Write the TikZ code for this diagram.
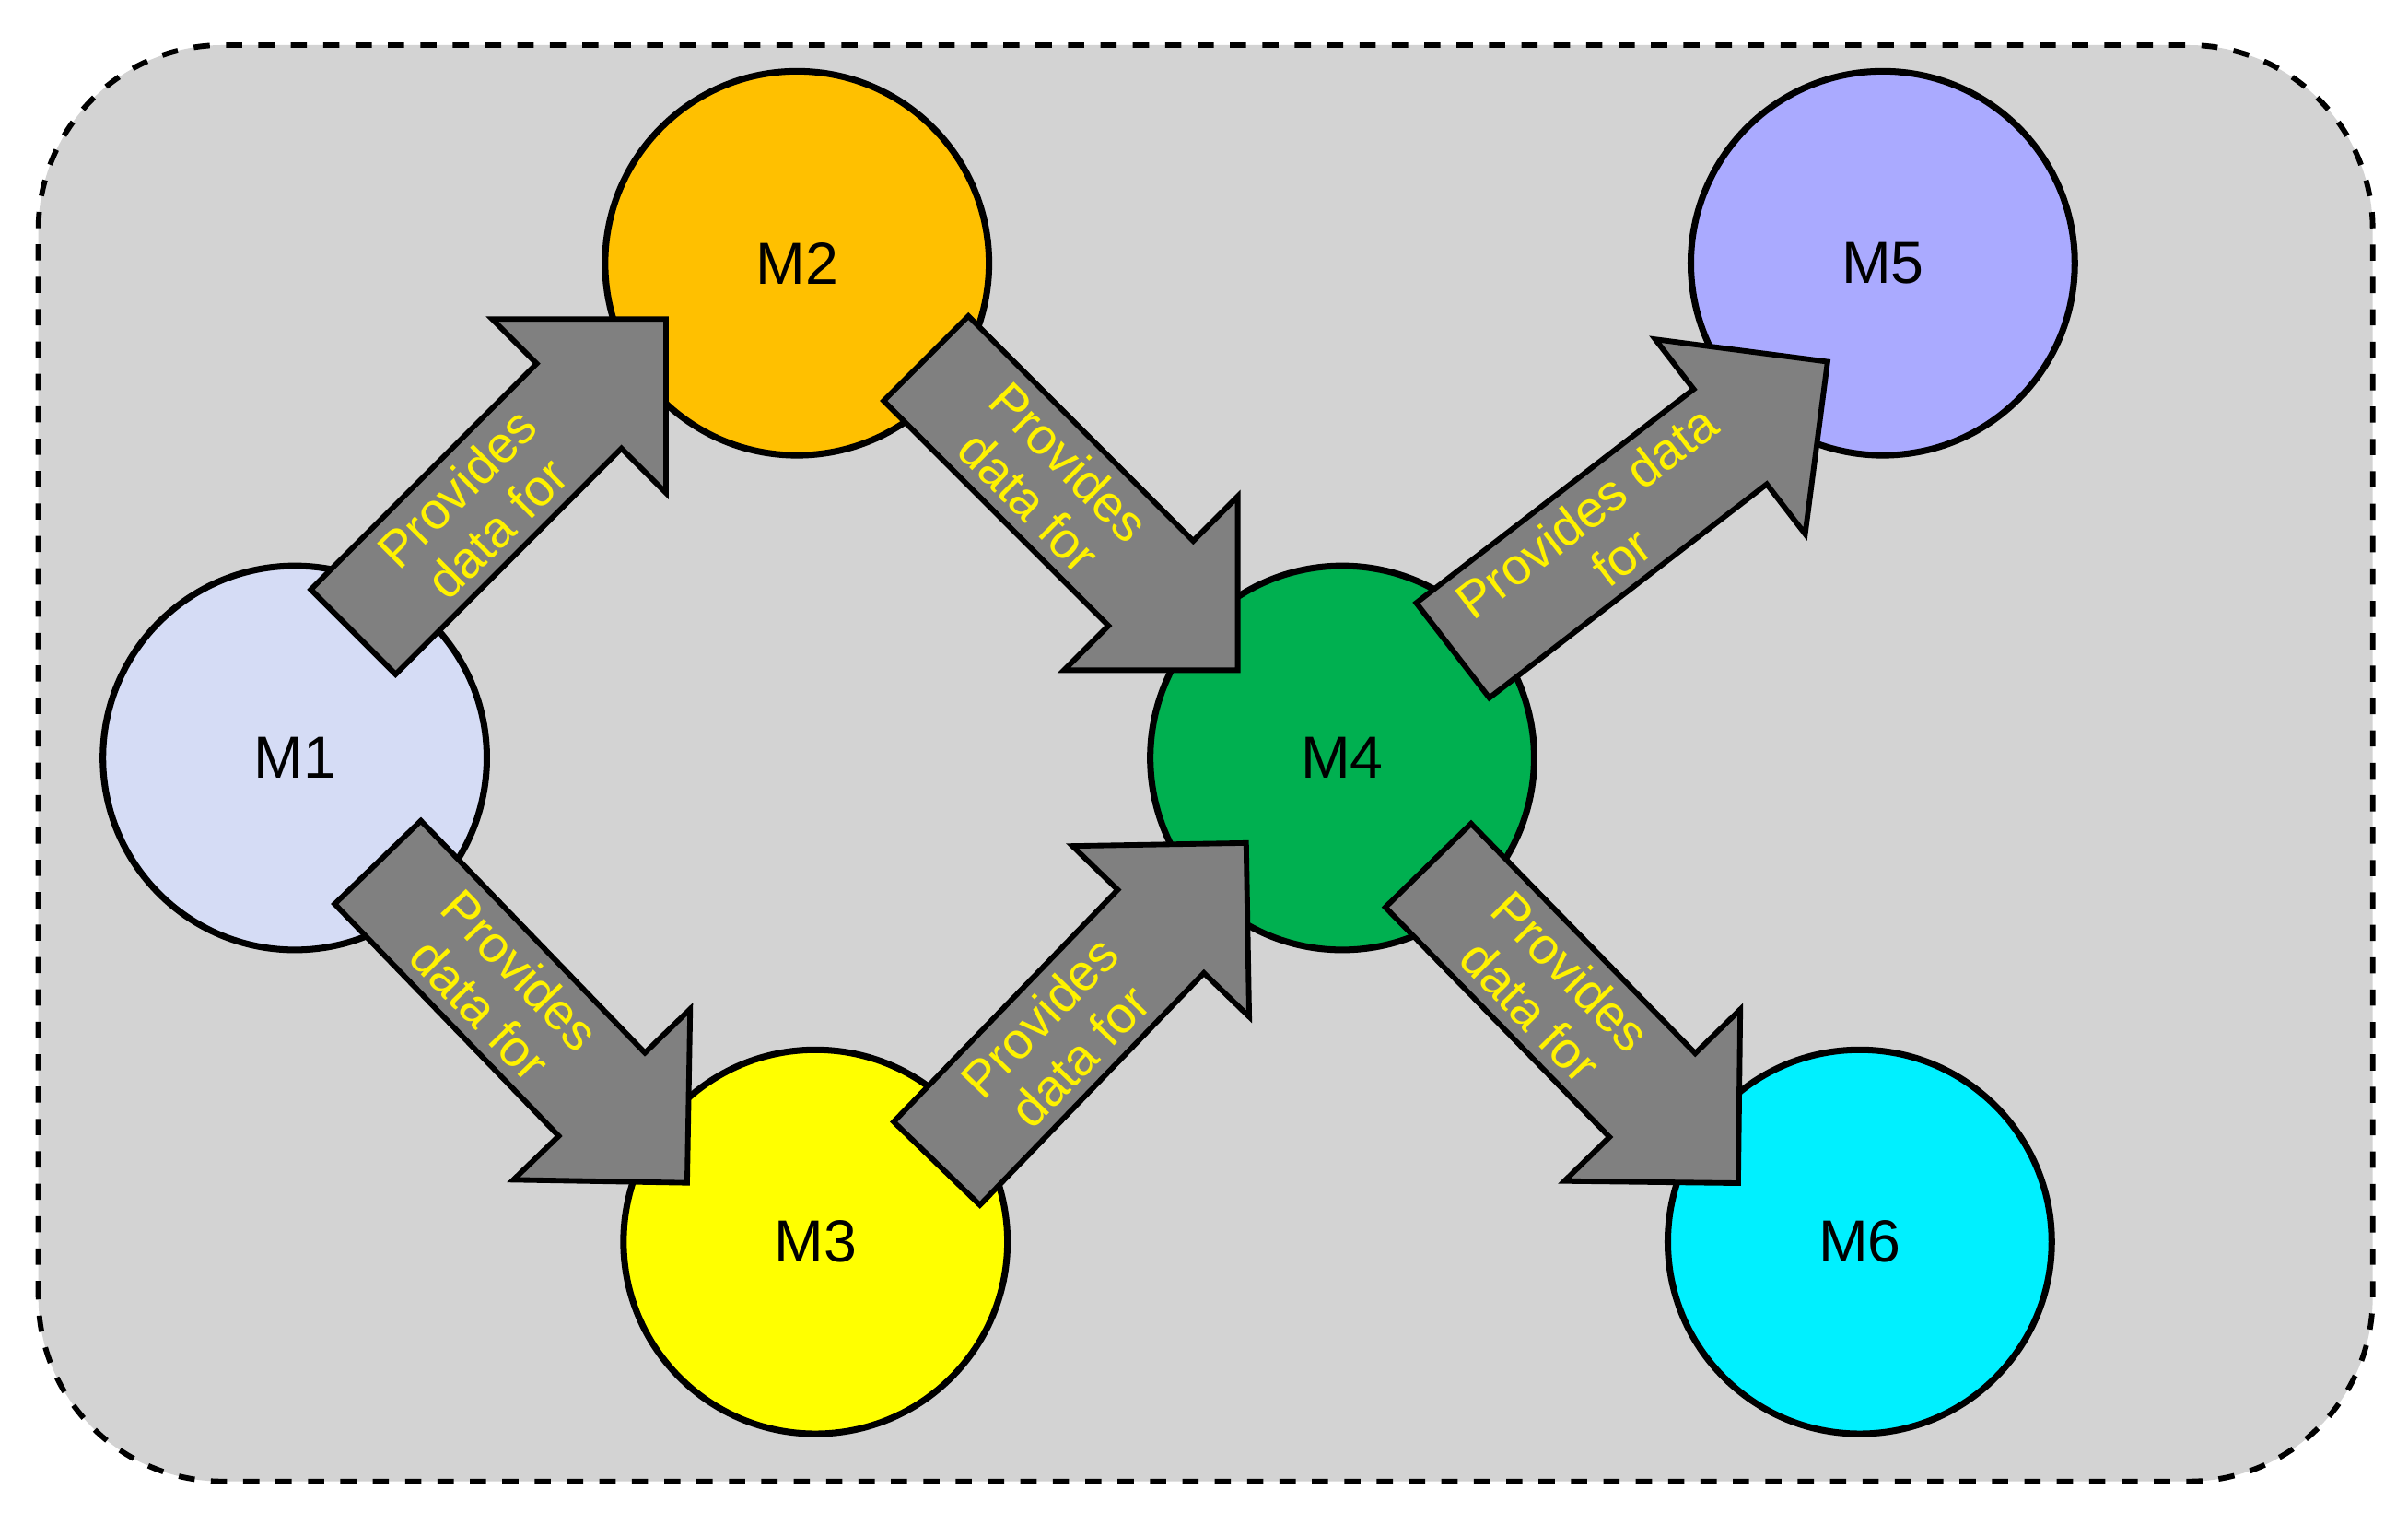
\documentclass[tikz,border=0pt]{standalone}
\usepackage{fontspec}
\setmainfont{Liberation Sans}
\usetikzlibrary{positioning}

\definecolor{panelgray}{RGB}{211,211,211}
\definecolor{arrowgray}{RGB}{128,128,128}
\definecolor{mone}{RGB}{213,220,245}
\definecolor{mtwo}{RGB}{255,192,0}
\definecolor{mthree}{RGB}{255,255,0}
\definecolor{mfour}{RGB}{0,176,80}
\definecolor{mfive}{RGB}{170,170,255}
\definecolor{msix}{RGB}{0,240,255}

\tikzset{
  module/.style={circle, draw=black, line width=1.2pt, minimum size=2.5cm, font=\fontsize{11}{13}\selectfont},
  arrowbody/.style={fill=arrowgray, draw=black, line width=1pt, line join=miter},
  arrowtext/.style={text=yellow, align=center, font=\fontsize{9.5}{10.5}\selectfont}
}

% tail, angle, length, name, text
\newcommand{\dataarrow}[5]{%
  \begin{scope}[shift={(#1)}, rotate=#2]
    \filldraw [arrowbody] (0,-0.39) -- ++(#3-0.8,0) -- ++(0,-0.41) -- (#3,0)
      -- (#3-0.8,0.8) -- ++(0,-0.41) -- (0,0.39) -- cycle;
    \node [arrowtext, rotate=#2] (#4) at (#3/2-0.3,0) {#5};
  \end{scope}}

\begin{document}
\begin{tikzpicture}
\useasboundingbox (0,0) rectangle (15.68,9.844);

% Panel
\filldraw [fill=panelgray, draw=black, dashed, line width=1pt, rounded corners=1.2cm] (0.25,0.2) rectangle (15.45,9.55);

% Modules
\node [module, fill=mone]   (m1) at (1.92,4.91) {M1};
\node [module, fill=mtwo]   (m2) at (5.19,8.13) {M2};
\node [module, fill=mthree] (m3) at (5.31,1.76) {M3};
\node [module, fill=mfour]  (m4) at (8.74,4.91) {M4};
\node [module, fill=mfive]  (m5) at (12.26,8.13) {M5};
\node [module, fill=msix]   (m6) at (12.11,1.76) {M6};

% Arrows
\dataarrow{2.30,5.73}{45}{2.88}{a12}{Provides\\data for}
\dataarrow{6.03,7.51}{-45}{2.87}{a24}{Provides\\data for}
\dataarrow{2.46,4.23}{-46}{2.90}{a13}{Provides\\data for}
\dataarrow{6.10,2.27}{46}{2.90}{a34}{Provides\\data for}
\dataarrow{9.46,5.61}{37.6}{3.08}{a45}{Provides data\\for}
\dataarrow{9.30,4.21}{-45.7}{2.89}{a46}{Provides\\data for}

\end{tikzpicture}
\end{document}
